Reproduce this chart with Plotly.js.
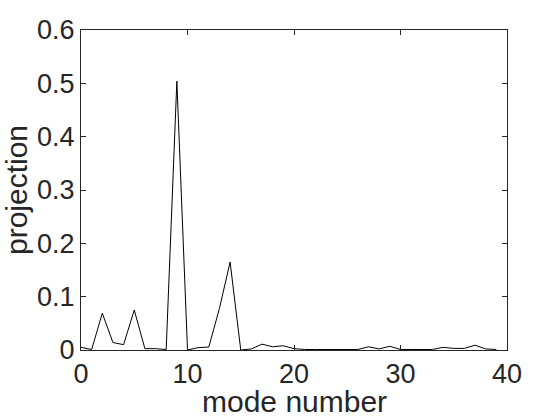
<!DOCTYPE html>
<html>
<head>
<meta charset="utf-8">
<script src="https://cdn.plot.ly/plotly-3.0.1.min.js"></script>
<style>
  body { margin: 0; background: #fff; }
  #chart { width: 560px; height: 420px; }
</style>
</head>
<body>
<div id="chart"></div>
<script>
// mode index 0..39 and projection values
var modes = [];
for (var i = 0; i < 40; i++) modes.push(i);

var projection = [
  0.005, 0.001, 0.069, 0.014, 0.010, 0.075, 0.0025, 0.0025, 0.001, 0.504,
  0.000, 0.0045, 0.0055, 0.078, 0.165, 0.000, 0.002, 0.011, 0.006, 0.008,
  0.0025, 0.001, 0.001, 0.001, 0.001, 0.001, 0.001, 0.006, 0.002, 0.007,
  0.001, 0.001, 0.001, 0.001, 0.005, 0.003, 0.003, 0.009, 0.002, 0.001
];

var xTicks = [0, 10, 20, 30, 40];
var yTicks = [0, 0.1, 0.2, 0.3, 0.4, 0.5, 0.6];
var yTickText = ['0', '0.1', '0.2', '0.3', '0.4', '0.5', '0.6'];

var ink = '#262626';
var fontFam = 'Liberation Sans, Arial, sans-serif';

var trace = {
  x: modes,
  y: projection,
  type: 'scatter',
  mode: 'lines',
  line: { color: '#000000', width: 1 },
  hoverinfo: 'x+y'
};

var axisCommon = {
  showgrid: false,
  zeroline: false,
  showline: true,
  linecolor: ink,
  linewidth: 1,
  mirror: 'ticks',
  ticks: 'inside',
  ticklen: 5,
  tickwidth: 1,
  tickcolor: ink,
  tickfont: { family: fontFam, size: 27, color: ink }
};

var layout = {
  width: 560,
  height: 420,
  margin: { l: 81, r: 53, t: 30, b: 70 },
  paper_bgcolor: '#ffffff',
  plot_bgcolor: '#ffffff',
  showlegend: false,
  xaxis: Object.assign({}, axisCommon, {
    range: [0, 40],
    tickvals: xTicks,
    ticktext: xTicks.map(String)
  }),
  yaxis: Object.assign({}, axisCommon, {
    range: [0, 0.6],
    tickvals: yTicks,
    ticktext: yTickText,
    title: { text: 'projection', standoff: 4,
      font: { family: fontFam, size: 30, color: ink } }
  }),
  // x title as an annotation so it can sit a little closer to the tick labels
  annotations: [{
    text: 'mode number',
    xref: 'paper', yref: 'paper',
    x: 0.5, y: 0,
    xanchor: 'center', yanchor: 'middle',
    yshift: -51,
    showarrow: false,
    font: { family: fontFam, size: 30, color: ink }
  }]
};

Plotly.newPlot('chart', [trace], layout, { displayModeBar: false, staticPlot: true });
</script>
</body>
</html>
